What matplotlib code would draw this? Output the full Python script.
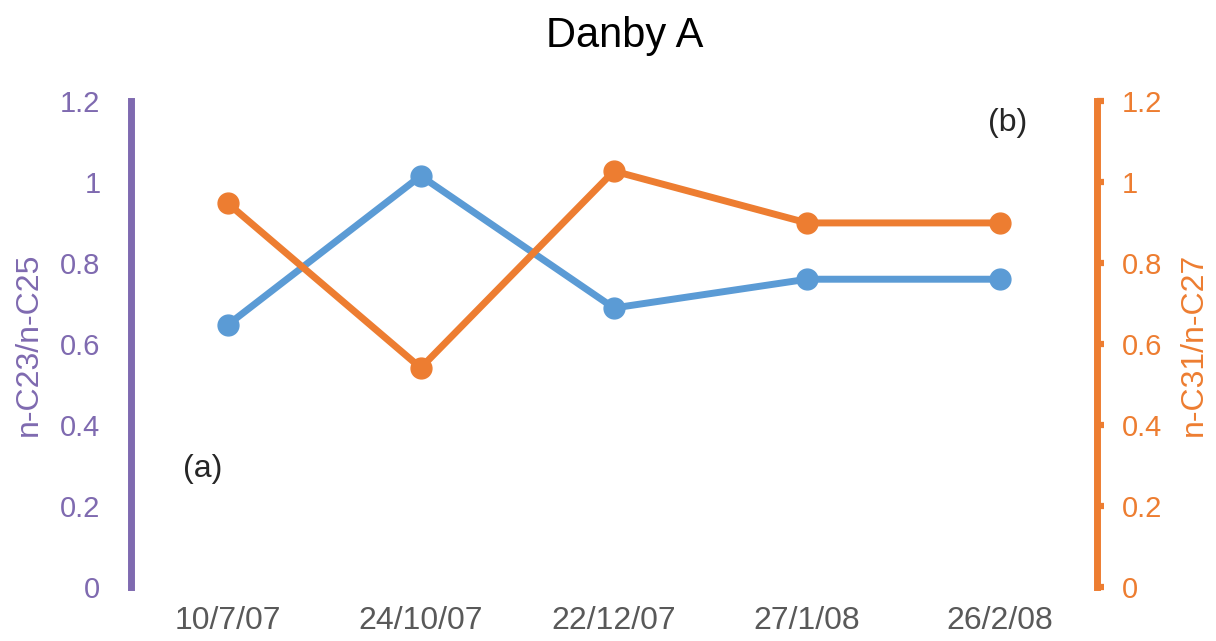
import matplotlib
matplotlib.use("Agg")
import matplotlib.pyplot as plt

dates = ["10/7/07", "24/10/07", "22/12/07", "27/1/08", "26/2/08"]
c23_c25 = [0.647, 1.015, 0.689, 0.760, 0.760]
c31_c27 = [0.948, 0.541, 1.027, 0.899, 0.899]
yticks = [0, 0.2, 0.4, 0.6, 0.8, 1, 1.2]
ytick_labels = ["0", "0.2", "0.4", "0.6", "0.8", "1", "1.2"]

blue = "#5B9BD5"
orange = "#ED7D31"
purple = "#7F6AB0"
gray = "#595959"

plt.rcParams['font.family'] = ['Liberation Sans', 'DejaVu Sans']

fig = plt.figure(figsize=(12.16, 6.41), dpi=100)
ax = fig.add_axes([0.1077, 0.0842, 0.7943, 0.7582])
ax2 = ax.twinx()

x = list(range(len(dates)))
ax.plot(x, c23_c25, color=blue, lw=5, marker='o', ms=15, zorder=3)
ax2.plot(x, c31_c27, color=orange, lw=5, marker='o', ms=15, zorder=3)

for a in (ax, ax2):
    a.set_ylim(0, 1.2)
    a.set_xlim(-0.5, len(dates) - 0.5)
    for s in a.spines.values():
        s.set_visible(False)

ax.spines['left'].set_visible(True)
ax.spines['left'].set_color(purple)
ax.spines['left'].set_linewidth(5)
ax2.spines['right'].set_visible(True)
ax2.spines['right'].set_color(orange)
ax2.spines['right'].set_linewidth(5)

ax.set_yticks(yticks)
ax.set_yticklabels(ytick_labels)
ax2.set_yticks(yticks)
ax2.set_yticklabels(ytick_labels)
ax.tick_params(axis='y', length=0, pad=22, labelsize=21, labelcolor=purple)
ax2.tick_params(axis='y', length=5, width=4.5, color=orange, pad=13, labelsize=21, labelcolor=orange)
ax.set_xticks(x)
ax.set_xticklabels(dates)
ax.tick_params(axis='x', length=0, pad=14, labelsize=23, labelcolor=gray)

ax.set_ylabel("n-C23/n-C25", color=purple, fontsize=23, labelpad=12)
ax2.set_ylabel("n-C31/n-C27", color=orange, fontsize=23, labelpad=12)

ax.text(0.0745, 0.243, "(a)", transform=ax.transAxes, fontsize=23, color="#262626", ha='center', va='center')
ax.text(0.908, 0.955, "(b)", transform=ax.transAxes, fontsize=23, color="#262626", ha='center', va='center')

fig.suptitle("Danby A", x=0.514, y=0.975, fontsize=30, color="black")

fig.savefig("out.png", dpi=100)
